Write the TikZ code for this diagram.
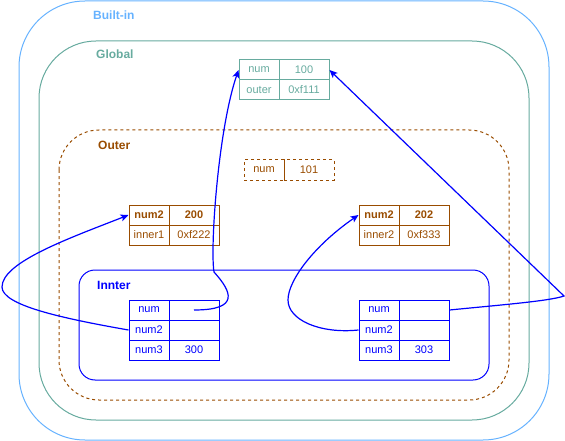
\documentclass[tikz,border=0pt]{standalone}
\usepackage{fontspec}
\setmainfont{Liberation Sans}
\usetikzlibrary{arrows.meta}
\definecolor{builtinc}{HTML}{66B2FF}
\definecolor{globalc}{HTML}{67AB9F}
\definecolor{outerc}{HTML}{994C00}
\definecolor{innerc}{HTML}{0000FF}
\tikzset{
  scopebox/.style={line width=1pt, rounded corners=#1},
  lbl/.style={anchor=west, inner sep=0, font=\fontsize{12}{14}\selectfont\bfseries},
  kcell/.style={draw, line width=1pt, minimum width=40, minimum height=20, inner sep=0, font=\fontsize{11}{13}\selectfont},
  vcell/.style={draw, line width=1pt, minimum width=50, minimum height=20, inner sep=0, font=\fontsize{11}{13}\selectfont},
  bcell/.style={font=\fontsize{11}{13}\selectfont\bfseries},
  dashcell/.style={dash pattern=on 3pt off 3pt},
  ref/.style={draw=innerc, line width=1.2pt, -{Stealth[length=8pt,width=7pt,inset=2pt]}}
}
\begin{document}
\begin{tikzpicture}[x=1pt,y=-1pt]
\useasboundingbox (0,0) rectangle (565,441);
% scope boxes
\draw[scopebox=66, draw=builtinc] (19,1) rectangle (549,440);
\draw[scopebox=57, draw=globalc] (39,41) rectangle (529,420);
\draw[scopebox=40, draw=outerc, dash pattern=on 3pt off 3pt] (59,130) rectangle (509,400);
\draw[scopebox=16, draw=innerc] (79,270) rectangle (489,380);
% labels
\node[lbl, text=builtinc] (lbuiltin) at (93,15) {Built-in};
\node[lbl, text=globalc] (lglobal) at (96,54) {Global};
\node[lbl, text=outerc] (louter) at (98,145) {Outer};
\node[lbl, text=innerc] (linner) at (97,285) {Innter};
% global table
\begin{scope}[every node/.append style={draw=globalc, text=globalc}]
\node[kcell] (gk1) at (259,70) {num};
\node[vcell] (gv1) at (304,70) {100};
\node[kcell] (gk2) at (259,90) {outer};
\node[vcell] (gv2) at (304,90) {0xf111};
\end{scope}
% outer num
\begin{scope}[every node/.append style={draw=outerc, text=outerc, dashcell}]
\node[kcell] (ok) at (264,170) {num};
\node[vcell] (ov) at (309,170) {101};
\end{scope}
% outer tables
\begin{scope}[every node/.append style={draw=outerc, text=outerc}]
\node[kcell, bcell] (ak1) at (149,215) {num2};
\node[vcell, bcell] (av1) at (194,215) {200};
\node[kcell] (ak2) at (149,235) {inner1};
\node[vcell] (av2) at (194,235) {0xf222};
\node[kcell, bcell] (bk1) at (379,215) {num2};
\node[vcell, bcell] (bv1) at (424,215) {202};
\node[kcell] (bk2) at (379,235) {inner2};
\node[vcell] (bv2) at (424,235) {0xf333};
\end{scope}
% inner tables
\begin{scope}[every node/.append style={draw=innerc, text=innerc}]
\node[kcell] (lk1) at (149,310) {num};
\node[vcell] (lv1) at (194,310) {};
\node[kcell] (lk2) at (149,330) {num2};
\node[vcell] (lv2) at (194,330) {};
\node[kcell] (lk3) at (149,350) {num3};
\node[vcell] (lv3) at (194,350) {300};
\node[kcell] (rk1) at (379,310) {num};
\node[vcell] (rv1) at (424,310) {};
\node[kcell] (rk2) at (379,330) {num2};
\node[vcell] (rv2) at (424,330) {};
\node[kcell] (rk3) at (379,350) {num3};
\node[vcell] (rv3) at (424,350) {303};
\end{scope}
% waypoints
\coordinate (w1) at (214,272);
\coordinate (w2) at (2,287);
\coordinate (w3) at (288,300);
\coordinate (w4) at (564,296);
% references
\draw[ref] (lv1.center) .. controls (240,310) and (232,292) .. (w1)
  .. controls (210,248) and (218,130) .. (gk1.west);
\draw[ref] (lk2.west) .. controls (60,318) and (2,305) .. (w2)
  .. controls (2,262) and (70,238) .. (ak1.west);
\draw[ref] (rk2.west) .. controls (320,334) and (288,320) .. (w3)
  .. controls (288,280) and (315,245) .. (bk1.west);
\draw[ref] (rv1.east) .. controls (500,305) and (550,301) .. (w4) -- (gv1.east);
\end{tikzpicture}
\end{document}
